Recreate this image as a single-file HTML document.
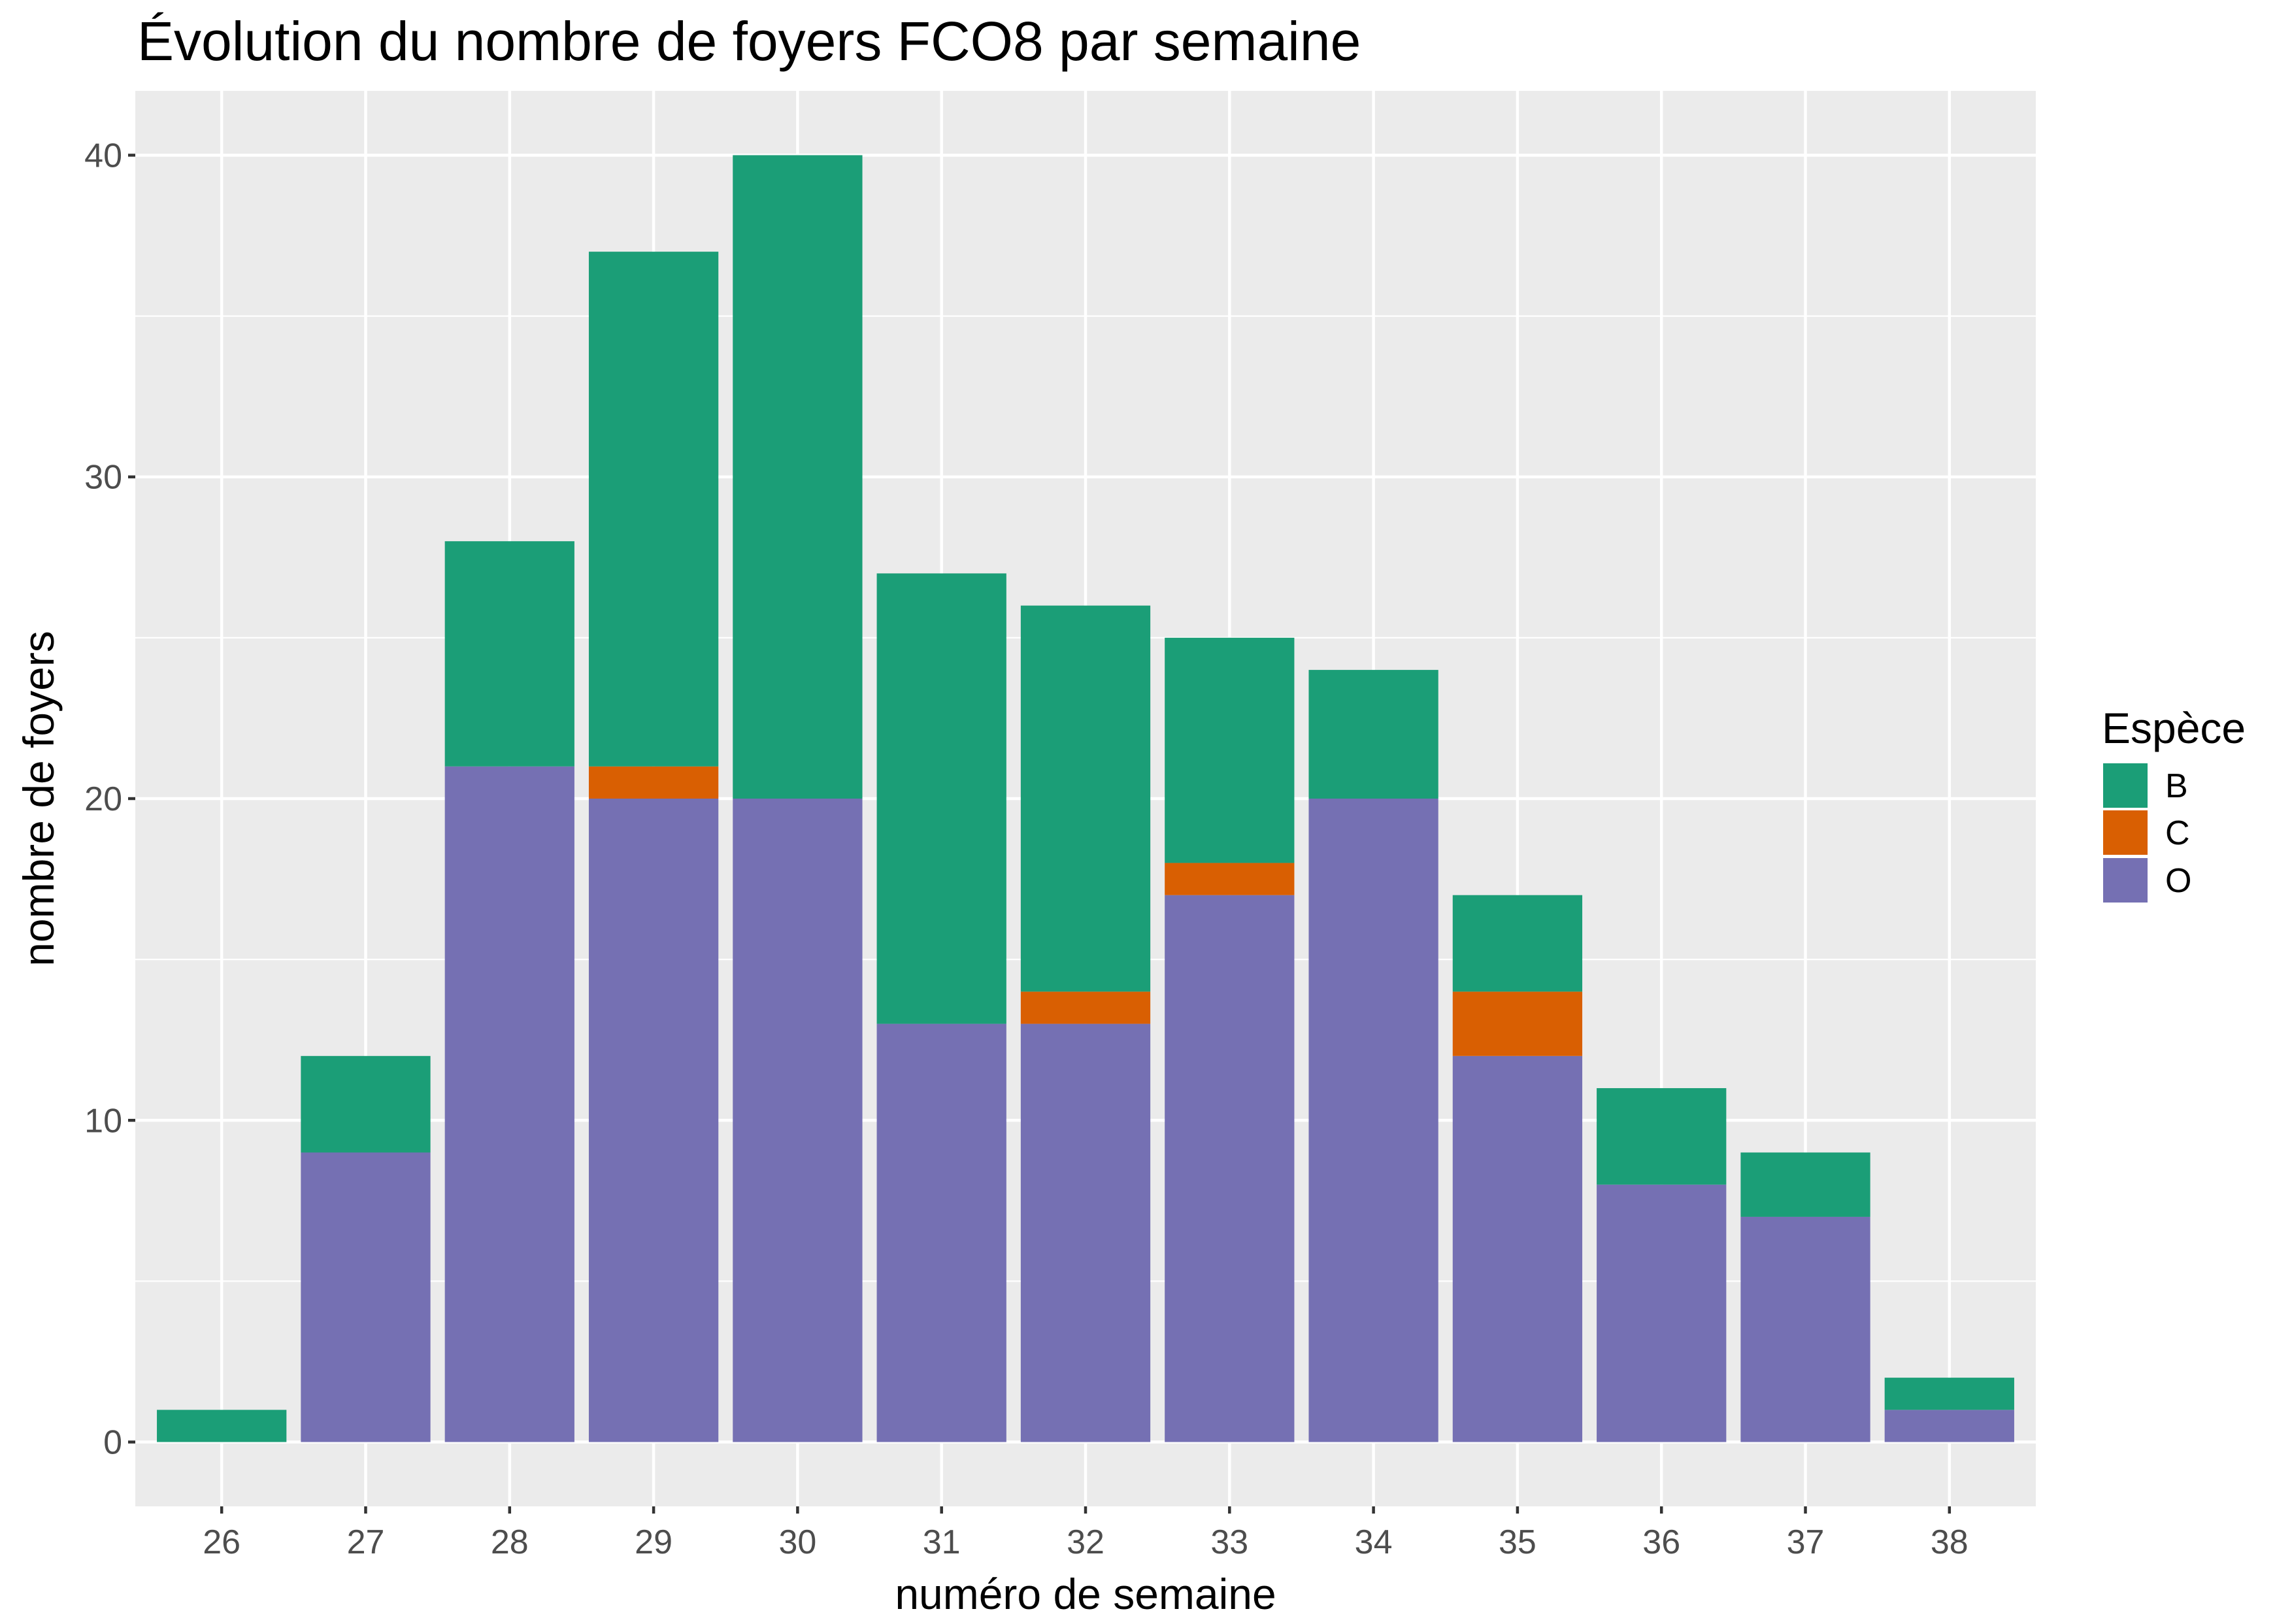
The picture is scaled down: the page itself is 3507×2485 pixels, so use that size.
<!DOCTYPE html>
<html><head><meta charset="utf-8"><style>
body{margin:0;background:#fff}
svg text{font-family:"Liberation Sans",Arial,sans-serif}
</style></head><body>
<svg id="chart" width="3507" height="2480" xmlns="http://www.w3.org/2000/svg">
<text x="210" y="92" font-size="84" fill="#000">Évolution du nombre de foyers FCO8 par semaine</text>
<rect x="207" y="139" width="2908" height="2166" fill="#ebebeb"/>
<g id="grid"></g><g id="bars"></g><g id="axes"></g>
<text x="1661" y="2462" font-size="66" text-anchor="middle" fill="#000">numéro de semaine</text>
<text transform="translate(82,1222) rotate(-90)" font-size="66" text-anchor="middle" fill="#000">nombre de foyers</text>
<g>
<text x="3216" y="1137" font-size="66" fill="#000">Espèce</text>
<rect x="3218" y="1168" width="68" height="68" fill="#1b9e77"/>
<rect x="3218" y="1240" width="68" height="68" fill="#d95f02"/>
<rect x="3218" y="1313" width="68" height="68" fill="#7570b3"/>
<text x="3313" y="1220" font-size="52" fill="#000">B</text>
<text x="3313" y="1292" font-size="52" fill="#000">C</text>
<text x="3313" y="1365" font-size="52" fill="#000">O</text>
</g>
</svg>
<script>
const weeks=[26,27,28,29,30,31,32,33,34,35,36,37,38];
const valO=[0,9,21,20,20,13,13,17,20,12,8,7,1];
const valC=[0,0,0,1,0,0,1,1,0,2,0,0,0];
const valB=[1,3,7,16,20,14,12,7,4,3,3,2,1];
const yTicks=[0,10,20,30,40];
const yMinor=[5,15,25,35];
const NS="http://www.w3.org/2000/svg";
const PX0=207,PX1=3115,PY0=139,PY1=2305;
const step=(PX1-PX0)/(weeks.length+0.2);
function xS(i){return PX0+step*(0.6+i);}
function yS(v){return PY1-(v+2)/44*(PY1-PY0);}
function mk(tag,attrs,parent){const e=document.createElementNS(NS,tag);for(const k in attrs)e.setAttribute(k,attrs[k]);parent.appendChild(e);return e;}
const grid=document.getElementById('grid'),bars=document.getElementById('bars'),axes=document.getElementById('axes');
yMinor.forEach(v=>{const l=mk('line',{x1:PX0,x2:PX1,y1:yS(v),y2:yS(v),stroke:'#fff','stroke-width':2.2},grid);

});
yTicks.forEach(v=>{const l=mk('line',{x1:PX0,x2:PX1,y1:yS(v),y2:yS(v),stroke:'#fff','stroke-width':4.5},grid);


const t=mk('line',{x1:PX0-11,x2:PX0,y1:yS(v),y2:yS(v),stroke:'#333','stroke-width':4.5},axes);


const tx=mk('text',{x:PX0-20,y:yS(v)+18,'font-size':52,'text-anchor':'end',fill:'#4d4d4d'},axes);tx.textContent=v;

});
weeks.forEach((w,i)=>{const x=xS(i);
const l=mk('line',{x1:x,x2:x,y1:PY0,y2:PY1,stroke:'#fff','stroke-width':4.5},grid);


const t=mk('line',{x1:x,x2:x,y1:PY1,y2:PY1+11,stroke:'#333','stroke-width':4.5},axes);


const tx=mk('text',{x:x,y:PY1+72,'font-size':52,'text-anchor':'middle',fill:'#4d4d4d'},axes);tx.textContent=w;


const bw=step*0.9;let base=0;
[[valO[i],'#7570b3','o'],[valC[i],'#d95f02','c'],[valB[i],'#1b9e77','b']].forEach(([v,c,n])=>{
if(v>0){const r=mk('rect',{x:x-bw/2,y:yS(base+v),width:bw,height:yS(base)-yS(base+v),fill:c},bars);

}
base+=v;});});
</script>
</body></html>
